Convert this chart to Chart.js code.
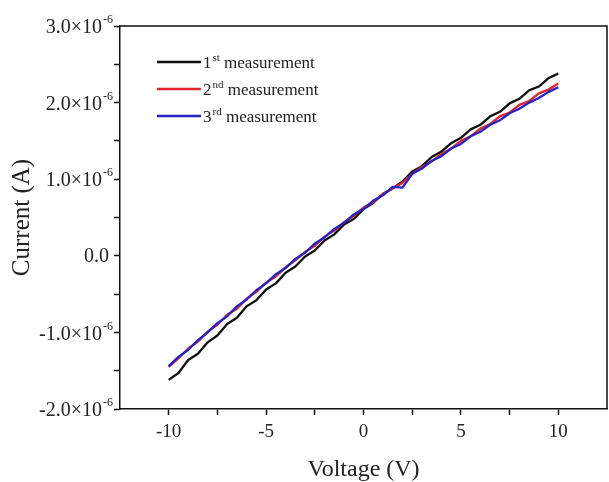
<!DOCTYPE html>
<html>
<head>
<meta charset="utf-8">
<script src="https://cdn.jsdelivr.net/npm/chart.js@4.4.1/dist/chart.umd.min.js"></script>
<style>
html, body { margin: 0; padding: 0; background: #fff; }
</style>
</head>
<body>
<canvas id="ivChart" width="609" height="482"></canvas>
<script>
// current values are in units of 1e-6 A
var voltage = [-10, -9.5, -9, -8.5, -8, -7.5, -7, -6.5, -6, -5.5, -5, -4.5, -4, -3.5, -3, -2.5, -2, -1.5, -1, -0.5,
    0, 0.5, 1, 1.5, 2, 2.5, 3, 3.5, 4, 4.5, 5, 5.5, 6, 6.5, 7, 7.5, 8, 8.5, 9, 9.5, 10];
var run1 = [-1.62, -1.53, -1.36, -1.28, -1.13, -1.04, -0.89, -0.81, -0.66, -0.58, -0.44, -0.36, -0.22, -0.14, -0.01, 0.07, 0.20, 0.28, 0.41, 0.48,
    0.61, 0.69, 0.81, 0.88, 0.97, 1.10, 1.17, 1.29, 1.36, 1.47, 1.54, 1.65, 1.71, 1.82, 1.88, 1.99, 2.05, 2.16, 2.21, 2.32, 2.38];
var run2 = [-1.45, -1.34, -1.21, -1.12, -0.99, -0.90, -0.77, -0.69, -0.56, -0.47, -0.35, -0.27, -0.15, -0.06, 0.05, 0.13, 0.25, 0.33, 0.44, 0.52,
    0.63, 0.70, 0.81, 0.88, 0.95, 1.07, 1.16, 1.23, 1.33, 1.40, 1.50, 1.56, 1.66, 1.72, 1.82, 1.87, 1.97, 2.02, 2.12, 2.17, 2.25];
var run3 = [-1.44, -1.32, -1.23, -1.10, -1.00, -0.88, -0.79, -0.66, -0.57, -0.45, -0.36, -0.24, -0.16, -0.04, 0.04, 0.16, 0.24, 0.35, 0.43, 0.54,
    0.61, 0.72, 0.79, 0.90, 0.89, 1.07, 1.14, 1.24, 1.30, 1.40, 1.46, 1.56, 1.62, 1.71, 1.77, 1.86, 1.92, 2.00, 2.06, 2.14, 2.20];
var yTickValues = [-2, -1, 0, 1, 2, 3];
var xTickValues = [-10, -5, 0, 5, 10];
var runNumbers = ['1', '2', '3'];
var runSuffixes = ['st', 'nd', 'rd'];
var runColors = ['#111111', '#e3242b', '#2323c8'];

var serif = "'Liberation Serif', 'Times New Roman', serif";

function points(ys) {
    return voltage.map(function (v, i) { return { x: v, y: ys[i] }; });
}

// top and right edges of the box
var framePlugin = {
    id: 'frame',
    afterDraw: function (chart) {
        var a = chart.chartArea, ctx = chart.ctx;
        ctx.save();
        ctx.strokeStyle = '#111';
        ctx.lineWidth = 1.5;
        ctx.beginPath();
        ctx.moveTo(a.left, a.top);
        ctx.lineTo(a.right, a.top);
        ctx.lineTo(a.right, a.bottom);
        ctx.stroke();
        ctx.restore();
    }
};

// y tick labels with the x10^-6 exponent
var yLabelPlugin = {
    id: 'yLabels',
    afterDraw: function (chart) {
        var y = chart.scales.y, ctx = chart.ctx;
        var right = 113;
        ctx.save();
        ctx.fillStyle = '#222';
        ctx.textAlign = 'right';
        ctx.textBaseline = 'middle';
        yTickValues.forEach(function (v) {
            var py = y.getPixelForValue(v);
            if (v === 0) {
                ctx.font = '20px ' + serif;
                ctx.fillText('0.0', right - 4, py + 1);
                return;
            }
            ctx.font = '12px ' + serif;
            var supW = ctx.measureText('-6').width;
            ctx.fillText('-6', right, py - 6);
            ctx.font = '20px ' + serif;
            ctx.fillText(v.toFixed(1) + '\u00d710', right - supW - 1, py + 2);
        });
        ctx.restore();
    }
};

var legendPlugin = {
    id: 'runLegend',
    afterDraw: function (chart) {
        var ctx = chart.ctx;
        var rows = [62, 89, 116];
        ctx.save();
        ctx.textBaseline = 'alphabetic';
        ctx.textAlign = 'left';
        ctx.fillStyle = '#222';
        runNumbers.forEach(function (n, i) {
            var yy = rows[i];
            ctx.strokeStyle = runColors[i];
            ctx.lineWidth = 2.5;
            ctx.beginPath();
            ctx.moveTo(157, yy);
            ctx.lineTo(201, yy);
            ctx.stroke();
            var x = 203;
            ctx.font = '17px ' + serif;
            ctx.fillText(n, x, yy + 6);
            x += ctx.measureText(n).width + 1;
            ctx.font = '11px ' + serif;
            ctx.fillText(runSuffixes[i], x, yy - 1);
            x += ctx.measureText(runSuffixes[i]).width;
            ctx.font = '17px ' + serif;
            ctx.fillText(' measurement', x, yy + 6);
        });
        ctx.restore();
    }
};

var ctxIV = document.getElementById('ivChart').getContext('2d');
var ivChart = new Chart(ctxIV, {
    type: 'line',
    data: {
        datasets: [{
            label: '1st measurement',
            data: points(run1),
            borderColor: runColors[0],
            order: 3
        }, {
            label: '2nd measurement',
            data: points(run2),
            borderColor: runColors[1],
            order: 2
        }, {
            label: '3rd measurement',
            data: points(run3),
            borderColor: runColors[2],
            order: 1
        }]
    },
    options: {
        responsive: false,
        animation: false,
        devicePixelRatio: 1,
        layout: { padding: { top: 26, right: 2, bottom: 0, left: 0 } },
        elements: {
            point: { radius: 0 },
            line: { borderWidth: 2.3, tension: 0, borderJoinStyle: 'round' }
        },
        plugins: {
            legend: { display: false },
            tooltip: { enabled: false }
        },
        scales: {
            x: {
                type: 'linear',
                min: -12.5,
                max: 12.5,
                afterBuildTicks: function (axis) {
                    var t = [];
                    for (var v = -10; v <= 10; v += 2.5) t.push({ value: v });
                    axis.ticks = t;
                },
                afterFit: function (axis) { axis.height = 73; },
                grid: { drawOnChartArea: false, tickLength: 6, tickColor: '#111', tickWidth: 1.5 },
                border: { color: '#111', width: 1.5 },
                ticks: {
                    autoSkip: false,
                    maxRotation: 0,
                    padding: 6,
                    color: '#222',
                    font: { family: serif, size: 19 },
                    callback: function (value) {
                        return xTickValues.indexOf(value) >= 0 ? String(value) : '';
                    }
                },
                title: {
                    display: true,
                    text: 'Voltage (V)',
                    color: '#222',
                    font: { family: serif, size: 24, lineHeight: 1 },
                    padding: { top: 0, bottom: 0 }
                }
            },
            y: {
                min: -2,
                max: 3,
                afterBuildTicks: function (axis) {
                    var t = [];
                    for (var v = -2; v <= 3; v += 0.5) t.push({ value: v });
                    axis.ticks = t;
                },
                afterFit: function (axis) { axis.width = 120; },
                grid: { drawOnChartArea: false, tickLength: 6, tickColor: '#111', tickWidth: 1.5 },
                border: { color: '#111', width: 1.5 },
                ticks: { display: false },
                title: {
                    display: true,
                    text: 'Current (A)',
                    color: '#222',
                    font: { family: serif, size: 25, lineHeight: 1 },
                    padding: { top: 10, bottom: 0 }
                }
            }
        }
    },
    plugins: [framePlugin, yLabelPlugin, legendPlugin]
});
</script>
</body>
</html>
